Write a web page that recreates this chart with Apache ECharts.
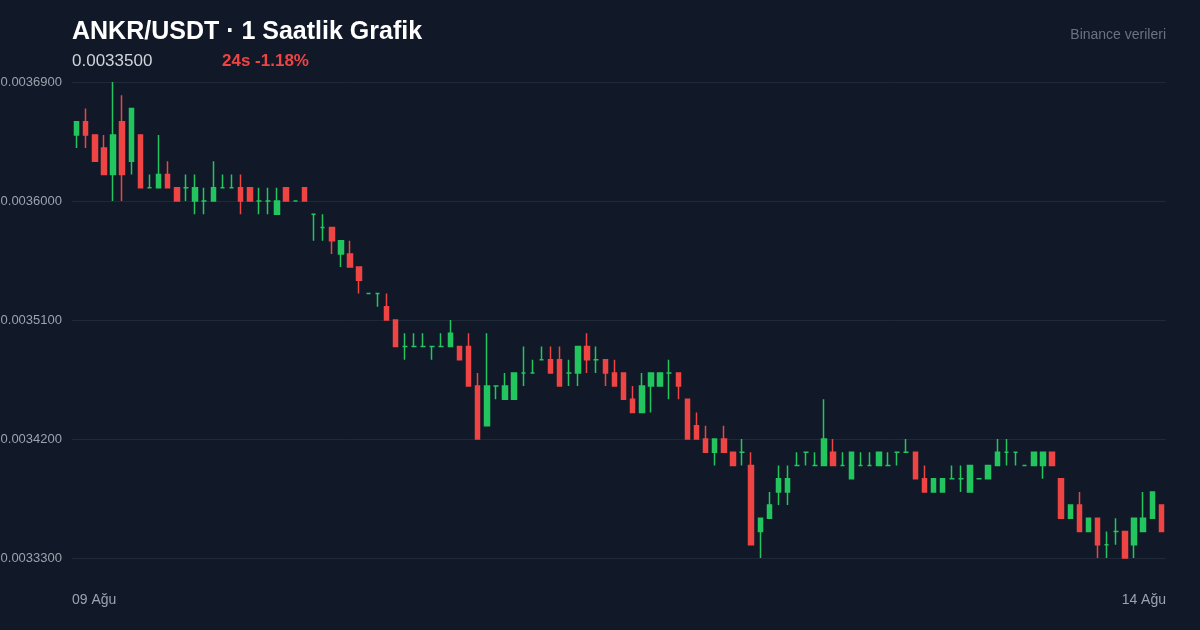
<!DOCTYPE html>
<html style="height: 100%">
<head>
<meta charset="utf-8">
<script src="https://cdn.jsdelivr.net/npm/echarts@6/dist/echarts.min.js"></script>
</head>
<body style="height: 100%; margin: 0; background: #111827">
<div id="container" style="width: 1200px; height: 630px"></div>
<script type="text/javascript">
// saatlik mumlar, 09 Ağu 00:00 -> 14 Ağu
var opens = [0.00365,0.00366,0.00365,0.00364,0.00362,0.00366,0.00363,0.00365,0.00361,0.00361,0.00362,0.00361,0.00361,0.00360,0.00360,0.00360,0.00361,0.00361,0.00361,0.00361,
  0.00360,0.00360,0.00359,0.00361,0.00360,0.00361,0.00359,0.00358,0.00358,0.00356,0.00356,0.00355,0.00353,0.00353,0.00352,0.00351,0.00349,0.00349,0.00349,0.00349,
  0.00349,0.00349,0.00349,0.00349,0.00346,0.00343,0.00346,0.00345,0.00345,0.00347,0.00347,0.00348,0.00348,0.00348,0.00347,0.00347,0.00349,0.00348,0.00348,0.00347,
  0.00347,0.00345,0.00344,0.00346,0.00346,0.00347,0.00347,0.00345,0.00343,0.00342,0.00341,0.00342,0.00341,0.00341,0.00340,0.00335,0.00336,0.00338,0.00338,0.00340,
  0.00341,0.00340,0.00340,0.00341,0.00340,0.00339,0.00340,0.00340,0.00340,0.00340,0.00341,0.00341,0.00341,0.00339,0.00338,0.00338,0.00339,0.00339,0.00338,0.00339,
  0.00339,0.00340,0.00341,0.00341,0.00340,0.00340,0.00340,0.00341,0.00339,0.00336,0.00337,0.00335,0.00336,0.00334,0.00335,0.00335,0.00334,0.00335,0.00336,0.00337];
var closes = [0.00366,0.00365,0.00363,0.00362,0.00365,0.00362,0.00367,0.00361,0.00361,0.00362,0.00361,0.00360,0.00361,0.00361,0.00360,0.00361,0.00361,0.00361,0.00360,0.00360,
  0.00360,0.00360,0.00360,0.00360,0.00360,0.00360,0.00359,0.00358,0.00357,0.00357,0.00355,0.00354,0.00353,0.00353,0.00351,0.00349,0.00349,0.00349,0.00349,0.00349,
  0.00349,0.00350,0.00348,0.00346,0.00342,0.00346,0.00346,0.00346,0.00347,0.00347,0.00347,0.00348,0.00347,0.00346,0.00347,0.00349,0.00348,0.00348,0.00347,0.00346,
  0.00345,0.00344,0.00346,0.00347,0.00347,0.00347,0.00346,0.00342,0.00342,0.00341,0.00342,0.00341,0.00340,0.00341,0.00334,0.00336,0.00337,0.00339,0.00339,0.00340,
  0.00341,0.00340,0.00342,0.00340,0.00340,0.00341,0.00340,0.00340,0.00341,0.00340,0.00341,0.00341,0.00339,0.00338,0.00339,0.00339,0.00339,0.00339,0.00340,0.00339,
  0.00340,0.00341,0.00341,0.00341,0.00340,0.00341,0.00341,0.00340,0.00336,0.00337,0.00335,0.00336,0.00334,0.00334,0.00335,0.00333,0.00336,0.00336,0.00338,0.00335];
var lows = [0.00364,0.00364,0.00363,0.00362,0.00360,0.00360,0.00362,0.00361,0.00361,0.00361,0.00361,0.00360,0.00360,0.00359,0.00359,0.00360,0.00361,0.00361,0.00359,0.00360,
  0.00359,0.00359,0.00359,0.00360,0.00360,0.00360,0.00357,0.00357,0.00356,0.00355,0.00355,0.00353,0.00353,0.00352,0.00351,0.00349,0.00348,0.00349,0.00349,0.00348,
  0.00349,0.00349,0.00348,0.00346,0.00342,0.00343,0.00345,0.00345,0.00345,0.00346,0.00347,0.00348,0.00347,0.00346,0.00346,0.00346,0.00347,0.00347,0.00346,0.00346,
  0.00345,0.00344,0.00344,0.00344,0.00346,0.00345,0.00345,0.00342,0.00342,0.00341,0.00340,0.00341,0.00340,0.00340,0.00334,0.00333,0.00336,0.00337,0.00337,0.00340,
  0.00340,0.00340,0.00340,0.00340,0.00340,0.00339,0.00340,0.00340,0.00340,0.00340,0.00340,0.00341,0.00339,0.00338,0.00338,0.00338,0.00339,0.00338,0.00338,0.00339,
  0.00339,0.00340,0.00340,0.00340,0.00340,0.00340,0.00339,0.00340,0.00336,0.00336,0.00335,0.00335,0.00333,0.00333,0.00334,0.00333,0.00333,0.00335,0.00336,0.00335];
var highs = [0.00366,0.00367,0.00365,0.00365,0.00369,0.00368,0.00367,0.00365,0.00362,0.00365,0.00363,0.00361,0.00362,0.00362,0.00361,0.00363,0.00362,0.00362,0.00362,0.00361,
  0.00361,0.00361,0.00361,0.00361,0.00360,0.00361,0.00359,0.00359,0.00358,0.00357,0.00357,0.00355,0.00353,0.00353,0.00353,0.00351,0.00350,0.00350,0.00350,0.00349,
  0.00350,0.00351,0.00349,0.00350,0.00347,0.00350,0.00346,0.00347,0.00347,0.00349,0.00348,0.00349,0.00349,0.00349,0.00348,0.00349,0.00350,0.00349,0.00348,0.00348,
  0.00347,0.00346,0.00347,0.00347,0.00347,0.00348,0.00347,0.00345,0.00344,0.00343,0.00342,0.00343,0.00341,0.00342,0.00341,0.00336,0.00338,0.00340,0.00340,0.00341,
  0.00341,0.00341,0.00345,0.00342,0.00341,0.00341,0.00341,0.00341,0.00341,0.00341,0.00341,0.00342,0.00341,0.00340,0.00339,0.00339,0.00340,0.00340,0.00340,0.00339,
  0.00340,0.00342,0.00342,0.00341,0.00340,0.00341,0.00341,0.00341,0.00339,0.00337,0.00338,0.00336,0.00336,0.00335,0.00336,0.00335,0.00336,0.00338,0.00338,0.00337];
var xTickLabels = ['09 Ağu', '14 Ağu'];
var lastPrice = '0.0033500';
var change24 = '24s -1.18%';

var up = '#22c55e', down = '#ef4444';
var font = 'Liberation Sans, Arial, sans-serif';

var hours = [];
var candles = [];
for (var i = 0; i < opens.length; i++) {
  hours.push(i);
  candles.push([opens[i], closes[i], lows[i], highs[i]]);
}

var myChart = echarts.init(document.getElementById('container'));
var option = {
  backgroundColor: '#111827',
  animation: false,
  title: [
    { text: 'ANKR/USDT · 1 Saatlik Grafik', left: 72, top: 20, padding: 0,
      textStyle: { color: '#ffffff', fontSize: 25, fontWeight: 'bold', fontFamily: font } },
    { text: lastPrice, left: 72, top: 53, padding: 0,
      textStyle: { color: '#d1d5db', fontSize: 17, fontWeight: 'normal', fontFamily: font } },
    { text: change24, left: 222, top: 53, padding: 0,
      textStyle: { color: down, fontSize: 17, fontWeight: 'bold', fontFamily: font } },
    { text: 'Binance verileri', right: 34, top: 28, padding: 0,
      textStyle: { color: '#6b7280', fontSize: 14, fontWeight: 'normal', fontFamily: font } }
  ],
  grid: { left: 72, right: 34, top: 82, bottom: 72, outerBoundsMode: 'none', containLabel: false },
  xAxis: [
    {
      type: 'category',
      data: hours,
      boundaryGap: true,
      position: 'bottom',
      axisLine: { show: false },
      axisTick: { show: false },
      axisLabel: { show: false },
      splitLine: { show: false }
    },
    {
      type: 'value',
      min: 0,
      max: 1,
      interval: 1,
      position: 'bottom',
      axisLine: { show: false },
      axisTick: { show: false },
      splitLine: { show: false },
      axisLabel: {
        color: '#9ca3af',
        fontSize: 14,
        fontFamily: font,
        margin: 35,
        alignMinLabel: 'left',
        alignMaxLabel: 'right',
        formatter: function (v) { return xTickLabels[v]; }
      }
    }
  ],
  yAxis: {
    type: 'value',
    min: 0.00333,
    max: 0.00369,
    interval: 0.00009,
    axisLine: { show: false },
    axisTick: { show: false },
    splitLine: { lineStyle: { color: '#1f2937', width: 1 } },
    axisLabel: {
      color: '#9ca3af',
      fontSize: 13,
      fontFamily: font,
      margin: 10,
      formatter: function (v) { return v.toFixed(7); }
    }
  },
  series: [
    {
      type: 'candlestick',
      xAxisIndex: 0,
      barWidth: 5,
      data: candles,
      itemStyle: {
        color: up,
        color0: down,
        borderColor: up,
        borderColor0: down,
        borderColorDoji: up,
        borderWidth: 1.5
      }
    }
  ]
};
myChart.setOption(option);
</script>
</body>
</html>
